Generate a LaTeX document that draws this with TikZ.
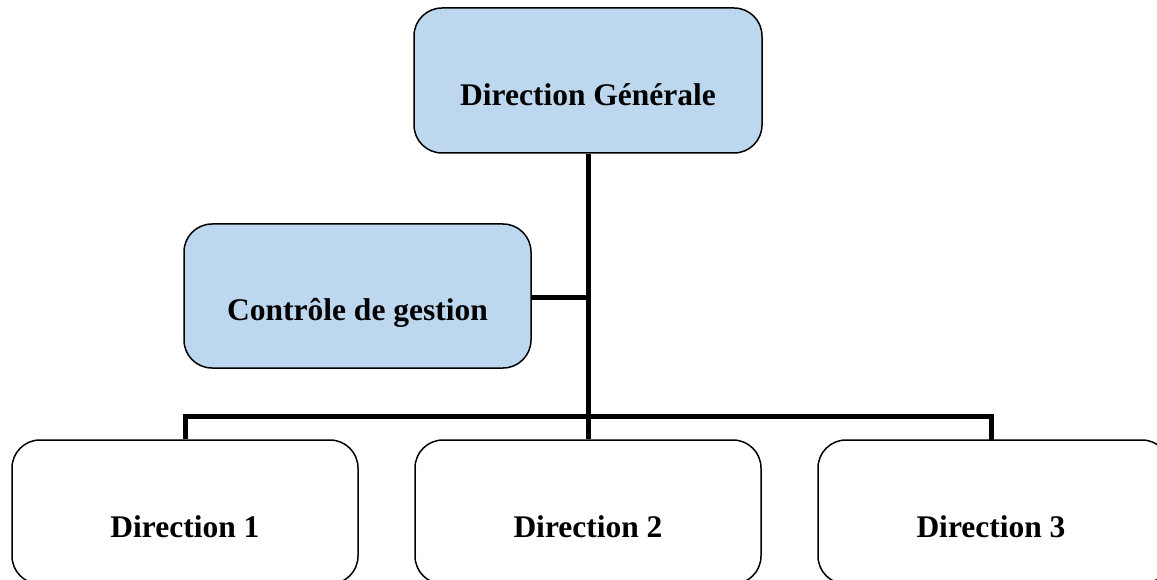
\documentclass[tikz,border=0pt]{standalone}
\usepackage{fontspec}
\setmainfont{Liberation Serif}
\definecolor{boxblue}{HTML}{BDD7EE}
\begin{document}
\begin{tikzpicture}[x=1pt,y=-1pt,
  box/.style={draw=black,line width=1.5pt,rounded corners=28pt,rectangle,minimum width=#1,minimum height=144pt,inner sep=0pt,anchor=center},
  box/.default=346pt,
  txt/.style={font=\fontsize{31.5}{36}\selectfont\bfseries,anchor=base,inner sep=0pt},
  conn/.style={line width=5pt}]
\useasboundingbox (0,0) rectangle (1157,580);
\clip (0,0) rectangle (1157,580);
\node[box=348pt,fill=boxblue,minimum height=145pt] (dg) at (588,80.5) {};
\node[box=347pt,fill=boxblue] (cg) at (357.5,296) {};
\node[box] (d1) at (185,512) {};
\node[box] (d2) at (588,512) {};
\node[box=352pt] (d3) at (994,512) {};
\node[txt] (tdg) at (588,106) {Direction Générale};
\node[txt] (tcg) at (357.5,320) {Contrôle de gestion};
\node[txt] (td1) at (185,537) {Direction 1};
\node[txt] (td2) at (588,537) {Direction 2};
\node[txt] (td3) at (991,537) {Direction 3};
\coordinate (bus) at (588,416);
\coordinate (cgj) at (588,297);
\coordinate (d3top) at (991,440);
\draw[conn] (dg.south) -- (bus);
\draw[conn] (cg.east |- cgj) -- (cgj);
\draw[conn,line join=miter] (d1.north) -- (d1.north |- bus) -- (d3top |- bus) -- (d3top);
\draw[conn] (bus) -- (d2.north);
\end{tikzpicture}
\end{document}
